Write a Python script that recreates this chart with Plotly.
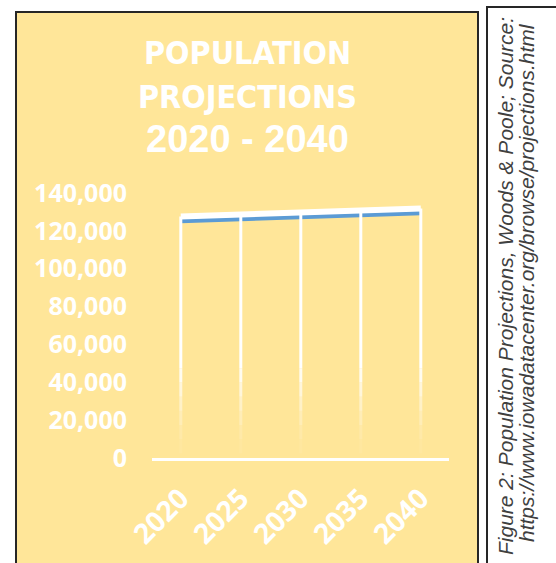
import plotly.graph_objects as go

years = ["2020", "2025", "2030", "2035", "2040"]
population = [125200, 126300, 127300, 128400, 129400]
y_ticks = [0, 20000, 40000, 60000, 80000, 100000, 120000, 140000]
title_lines = ["POPULATION", "PROJECTIONS", "2020 - 2040"]
caption_lines = ["Figure 2: Population Projections, Woods &amp; Poole; Source:",
                 "https://www.iowadatacenter.org/browse/projections.html"]

W, H = 556, 563
def px(x):
    return x / W
def py(y):
    return 1 - y / H

fig = go.Figure()

shift = 2400
fade_top = 45000
# blue data line
fig.add_trace(go.Scatter(
    x=years, y=population, mode="lines",
    line=dict(color="#5B9BD5", width=4.5),
    yaxis="y", hoverinfo="skip", showlegend=False,
))
# white glow line with opaque upper part of drop lines (shifted axis)
fig.add_trace(go.Scatter(
    x=years, y=population, mode="lines",
    line=dict(color="white", width=6),
    error_y=dict(type="data", symmetric=False, array=[0] * len(population),
                 arrayminus=[v - fade_top for v in population], color="white",
                 thickness=3, width=0),
    yaxis="y2", hoverinfo="skip", showlegend=False,
))
# fading lower part of drop lines
fade_steps = [(45000, 0.85), (37500, 0.65), (30000, 0.45), (22500, 0.3), (15000, 0.15), (7500, 0.06)]
for level, op in fade_steps:
    fig.add_trace(go.Scatter(
        x=years, y=[level] * len(years), mode="markers",
        marker=dict(size=1, color="rgba(0,0,0,0)"),
        error_y=dict(type="data", symmetric=False, array=[0] * len(years),
                     arrayminus=[7500] * len(years),
                     color=f"rgba(255,255,255,{op})", thickness=3, width=0),
        yaxis="y2", hoverinfo="skip", showlegend=False,
    ))

y_tick_font = dict(family="Open Sans", size=25, color="white", weight="bold")
x_tick_font = dict(family="Open Sans", size=28, color="white", weight="bold")
fig.update_layout(
    width=W, height=H,
    margin=dict(l=0, r=0, t=0, b=0),
    paper_bgcolor="white", plot_bgcolor="rgba(0,0,0,0)",
    xaxis=dict(domain=[px(152), px(449)], type="category",
               range=[-0.48, 4.47], showgrid=False, zeroline=False,
               showline=True, linecolor="white", linewidth=3,
               ticks="", tickangle=-45, ticklabelstandoff=10,
               tickfont=x_tick_font, automargin=False, fixedrange=True),
    yaxis=dict(domain=[1 - 458 / H, 1 - 193 / H], range=[0, 140000],
               tickvals=y_ticks, tickformat=",", showgrid=False, zeroline=False,
               showline=False, ticks="", ticklabelstandoff=24,
               tickfont=y_tick_font, automargin=False, fixedrange=True),
    yaxis2=dict(overlaying="y", range=[-shift, 140000 - shift], visible=False,
                fixedrange=True),
    shapes=[
        dict(type="rect", xref="paper", yref="paper",
             x0=px(16), x1=px(478), y0=py(575), y1=py(12),
             fillcolor="#FFE699", line=dict(color="#262626", width=2), layer="below"),
        dict(type="rect", xref="paper", yref="paper",
             x0=px(487), x1=px(575), y0=py(575), y1=py(7),
             fillcolor="white", line=dict(color="#262626", width=2), layer="below"),
    ],
)

title_y = [53, 97, 139]
title_fonts = [("DejaVu Sans Condensed, Liberation Sans", 32),
               ("DejaVu Sans Condensed, Liberation Sans", 32),
               ("Liberation Sans", 38)]
for line, yc, (fam, size) in zip(title_lines, title_y, title_fonts):
    fig.add_annotation(text=line, xref="paper", yref="paper",
                       x=px(247), y=py(yc), xanchor="center", yanchor="middle",
                       showarrow=False,
                       font=dict(family=fam, size=size, color="white", weight="bold"))

for line, xc, yc in zip(caption_lines, [505, 527], [286, 283]):
    fig.add_annotation(text=line, xref="paper", yref="paper",
                       x=px(xc), y=py(yc), xanchor="center", yanchor="middle",
                       textangle=-90, showarrow=False,
                       font=dict(family="Liberation Sans", size=21, color="#404040",
                                 style="italic"))

fig.write_html("out.html")
